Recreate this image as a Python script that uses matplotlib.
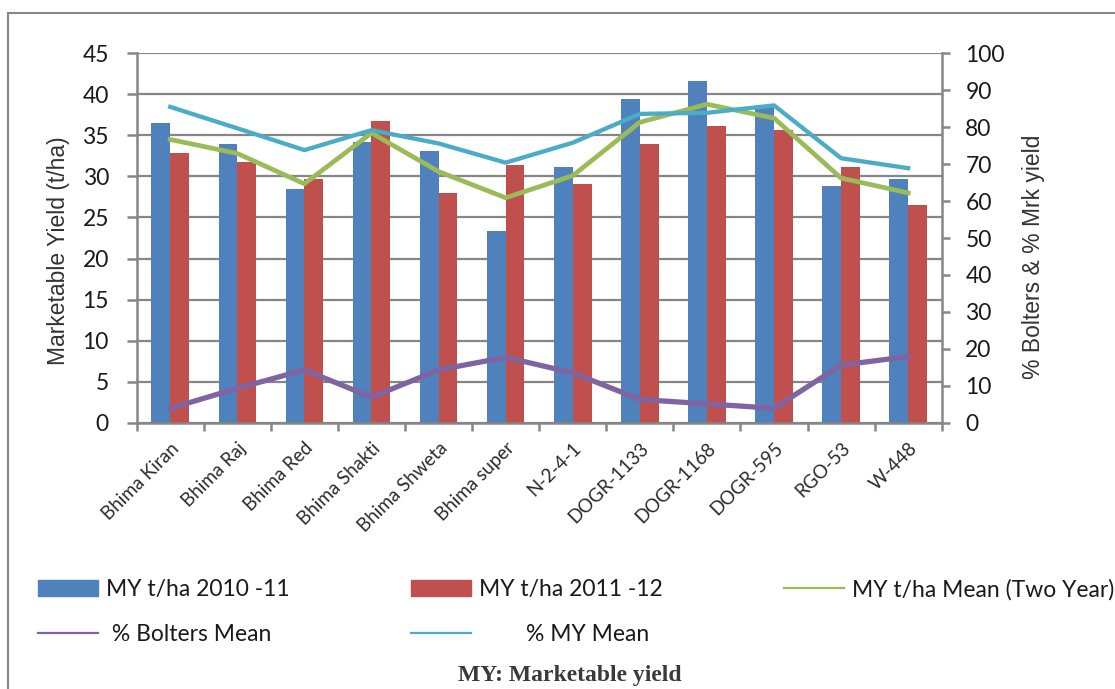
import matplotlib
matplotlib.use("Agg")
import matplotlib.pyplot as plt
import numpy as np
from matplotlib.lines import Line2D
from matplotlib.patches import Patch

plt.rcParams['font.family'] = ['Lato', 'DejaVu Sans']

varieties = ["Bhima Kiran", "Bhima Raj", "Bhima Red", "Bhima Shakti", "Bhima Shweta",
             "Bhima super", "N-2-4-1", "DOGR-1133", "DOGR-1168", "DOGR-595", "RGO-53", "W-448"]
my_2010 = [36.5, 33.9, 28.5, 34.2, 33.1, 23.4, 31.1, 39.4, 41.6, 38.5, 28.8, 29.7]
my_2011 = [32.8, 31.7, 29.7, 36.8, 28.0, 31.4, 29.1, 33.9, 36.2, 35.7, 31.1, 26.5]
my_mean = [34.5, 32.8, 29.1, 35.3, 30.6, 27.4, 30.1, 36.6, 38.8, 37.1, 29.8, 28.0]
bolters_mean = [3.9, 9.3, 14.3, 6.9, 14.3, 17.7, 13.5, 6.3, 5.1, 3.9, 15.6, 17.9]
pct_my_mean = [85.5, 79.7, 73.8, 79.2, 75.6, 70.4, 75.8, 83.6, 83.9, 85.9, 71.6, 68.9]

blue = '#4F81BD'
red = '#C0504D'
green = '#9BBB59'
purple = '#8064A2'
cyan = '#4BACC6'
grey = '#868686'
txt = '#1a1a1a'

fig = plt.figure(figsize=(11.15, 6.89), dpi=100)
ax = fig.add_axes([0.1226, 0.3865, 0.722, 0.5361])
ax2 = ax.twinx()

x = np.arange(len(varieties))
w = 0.28
ax.bar(x - w / 2, my_2010, w, color=blue, zorder=2)
ax.bar(x + w / 2, my_2011, w, color=red, zorder=2)
ax.plot(x, my_mean, color=green, lw=3.4, zorder=4)

ax2.plot(x, pct_my_mean, color=cyan, lw=3.1, zorder=3)
ax2.plot(x, bolters_mean, color=purple, lw=3.8, zorder=3)

ax.set_xlim(-0.5, len(varieties) - 0.5)
ax.set_ylim(0, 45)
ax.set_yticks(np.arange(0, 46, 5))
ax2.set_ylim(0, 100)
ax2.set_yticks(np.arange(0, 101, 10))

ax.yaxis.grid(True, color=grey, lw=1.6, zorder=0)
ax.set_axisbelow(True)

for a in (ax, ax2):
    for s in a.spines.values():
        s.set_visible(False)
ax.spines['left'].set_visible(True)
ax.spines['bottom'].set_visible(True)
ax2.spines['right'].set_visible(True)
for s in (ax.spines['left'], ax.spines['bottom'], ax2.spines['right']):
    s.set_color(grey)
    s.set_linewidth(1.8)

ax.set_xticks(np.arange(-0.5, len(varieties), 1.0), minor=False)
ax.set_xticklabels([])
ax.set_xticks(x, minor=True)
ax.set_xticklabels(varieties, minor=True, rotation=45, ha='right', va='top',
                   rotation_mode='anchor', fontsize=13.5, color='#2a2a2a')
ax.tick_params(axis='x', which='major', length=6, width=1.8, color=grey, direction='out')
ax.tick_params(axis='x', which='minor', length=0, pad=12)
ax.tick_params(axis='y', length=7, width=1.8, color=grey, labelsize=16.5, pad=13,
               labelcolor=txt)
ax2.tick_params(axis='y', length=6, width=1.8, color=grey, labelsize=16.5, pad=11,
                labelcolor=txt)

ax.set_ylabel('Marketable Yield (t/ha)', fontsize=16.5, family='Liberation Sans', color='#333333')
ax2.set_ylabel('% Bolters & % Mrk yield', fontsize=16.5, family='Liberation Sans',
               color='#333333', rotation=90)
ax.yaxis.set_label_coords(-0.083, 0.465)
ax2.yaxis.set_label_coords(1.0998, 0.449)

# Legends
leg_kw = dict(frameon=False, fontsize=16.5, handlelength=2.6, handleheight=0.7,
              labelspacing=1.05, handletextpad=0.35, borderaxespad=0, borderpad=0)
l1 = fig.legend([Patch(color=blue), Line2D([], [], color=purple, lw=1.6)],
                ['MY t/ha 2010 -11', ' % Bolters Mean'],
                loc='upper left', bbox_to_anchor=(38 / 1115, 1 - 579 / 689), **leg_kw)
l2 = fig.legend([Patch(color=red), Line2D([], [], color=cyan, lw=1.6)],
                ['MY t/ha 2011 -12', '        % MY Mean'],
                loc='upper left', bbox_to_anchor=(411 / 1115, 1 - 579 / 689), **leg_kw)
l3 = fig.legend([Line2D([], [], color=green, lw=1.6)],
                ['MY t/ha Mean (Two Year)'],
                loc='upper left', bbox_to_anchor=(784 / 1115, 1 - 579 / 689), **leg_kw)
for lg in (l1, l2, l3):
    for t in lg.get_texts():
        t.set_color(txt)

fig.text(570 / 1115, 1 - 676 / 689, 'MY: Marketable yield', ha='center', va='center',
         fontsize=17, fontweight='bold', family='Liberation Serif', color='#3a3a3a')

# outer frame
fig.add_artist(Line2D([8 / 1115, 1.0], [1 - 13 / 689, 1 - 13 / 689], color=grey, lw=1.5,
                      transform=fig.transFigure))
fig.add_artist(Line2D([8 / 1115, 8 / 1115], [0, 1 - 13 / 689], color=grey, lw=1.5,
                      transform=fig.transFigure))

fig.savefig('out.png', dpi=100)
